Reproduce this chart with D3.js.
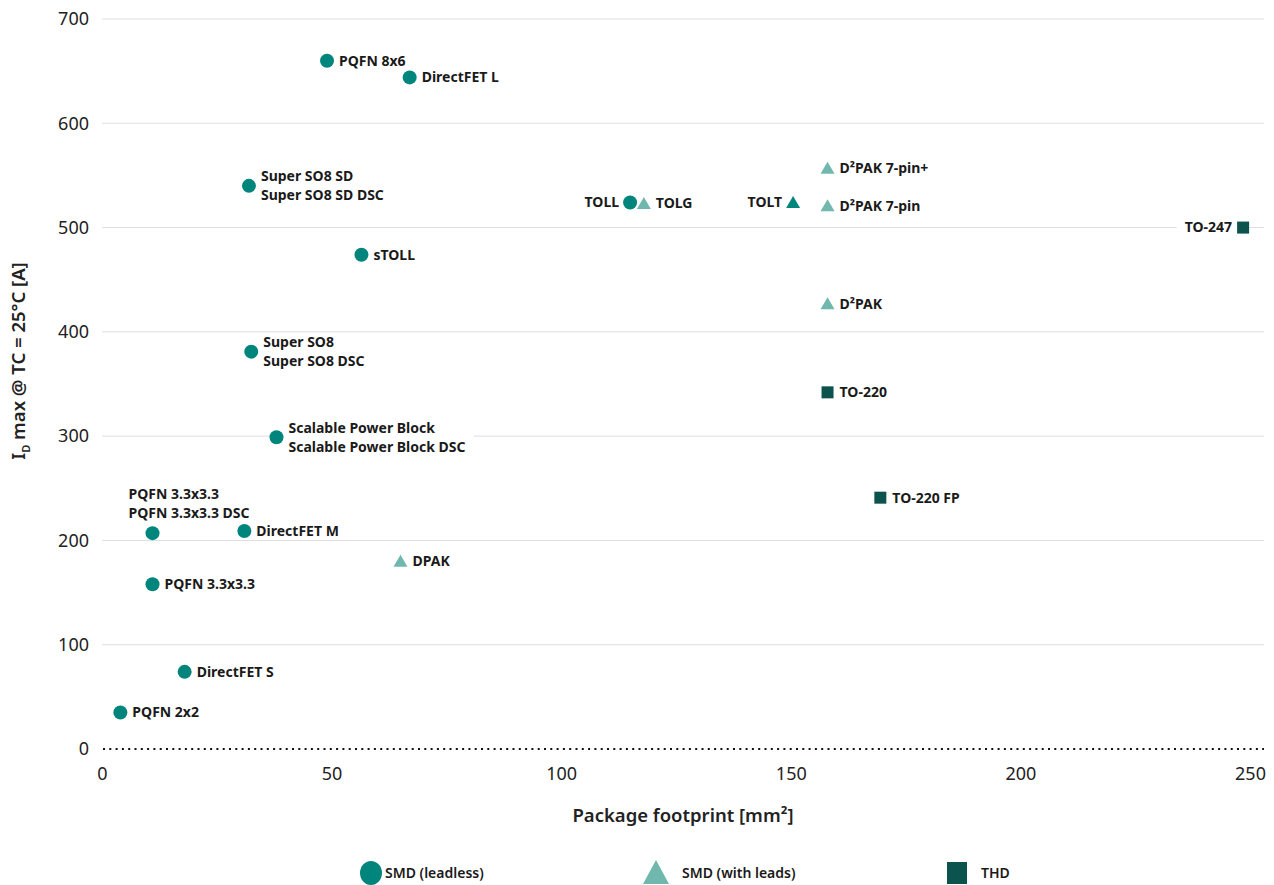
<!DOCTYPE html>
<html>
<head>
<meta charset="utf-8">
<script src="https://cdn.jsdelivr.net/npm/d3@7"></script>
<style>
  html, body { margin: 0; padding: 0; background: #fff; }
  svg { display: block; font-family: "Noto Sans", "Open Sans", sans-serif; }
</style>
</head>
<body>
<svg id="chart" width="1274" height="885"></svg>
<script>
// ---- data ----
const xTicks = [0, 50, 100, 150, 200, 250];
const yTicks = [0, 100, 200, 300, 400, 500, 600, 700];

const seriesNames = ["SMD (leadless)", "SMD (with leads)", "THD"];

const leadlessNames = ["PQFN 2x2", "DirectFET S", "PQFN 3.3x3.3", "PQFN 3.3x3.3\nPQFN 3.3x3.3 DSC", "DirectFET M",
  "Scalable Power Block\nScalable Power Block DSC", "Super SO8\nSuper SO8 DSC", "sTOLL", "Super SO8 SD\nSuper SO8 SD DSC",
  "TOLL", "PQFN 8x6", "DirectFET L"];
const leadlessX = [4, 18, 11, 11, 31, 38, 32.5, 56.5, 32, 115, 49, 67];
const leadlessY = [35, 74, 158, 207, 209, 299, 381, 474, 540, 524, 660, 644];

const leadsNames = ["DPAK", "TOLG", "TOLT", "D²PAK", "D²PAK 7-pin", "D²PAK 7-pin+"];
const leadsX = [65, 118, 150.5, 158, 158, 158];
const leadsY = [180, 523, 524, 427, 521, 557];

const thdNames = ["TO-220", "TO-220 FP", "TO-247"];
const thdX = [158, 169.5, 248.5];
const thdY = [342, 241, 500];

// label placement (style, not data)
const labelLeft = new Set(["TOLL", "TOLT", "TO-247"]);
const labelAbove = new Set(["PQFN 3.3x3.3\nPQFN 3.3x3.3 DSC"]);
const darkTriangles = new Set(["TOLT"]);

// ---- layout ----
const colors = { leadless: "#00857c", leads: "#70b8ae", thd: "#0b534c" };
const svg = d3.select("#chart");
const margin = { left: 102, right: 1250, top: 19, bottom: 749 };
const x = d3.scaleLinear().domain([0, 250]).range([margin.left, margin.right]);
const y = d3.scaleLinear().domain([0, 700]).range([margin.bottom, margin.top]);
const gridRight = 1264;

// grid
const grid = svg.append("g");
grid.selectAll("line").data(yTicks.filter(d => d > 0)).join("line")
  .attr("x1", margin.left).attr("x2", gridRight)
  .attr("y1", d => y(d)).attr("y2", d => y(d))
  .attr("stroke", "#dedede").attr("stroke-width", 1);
svg.append("line")
  .attr("x1", margin.left + 1).attr("x2", gridRight)
  .attr("y1", y(0)).attr("y2", y(0))
  .attr("stroke", "#111").attr("stroke-width", 2)
  .attr("stroke-dasharray", "2,4.3");

// axes
const yAxis = d3.axisLeft(y).tickValues(yTicks).tickSize(0).tickPadding(13);
const gy = svg.append("g").attr("transform", `translate(${margin.left},0)`).call(yAxis);
gy.select(".domain").remove();
gy.selectAll("text").attr("font-size", 18).attr("fill", "#222")
  .attr("font-family", "Noto Sans");

const xAxis = d3.axisBottom(x).tickValues(xTicks).tickSize(0).tickPadding(18);
const gx = svg.append("g").attr("transform", `translate(0,${margin.bottom})`).call(xAxis);
gx.select(".domain").remove();
gx.selectAll("text").attr("font-size", 18).attr("fill", "#222")
  .attr("font-family", "Noto Sans");

// axis titles
svg.append("text")
  .attr("x", 683).attr("y", 822).attr("text-anchor", "middle")
  .attr("font-size", 18.5).attr("font-weight", 600).attr("fill", "#222")
  .text("Package footprint [mm²]");

const yt = svg.append("text")
  .attr("transform", "translate(25,361) rotate(-90)")
  .attr("text-anchor", "middle")
  .attr("font-size", 18.5).attr("font-weight", 600).attr("fill", "#222");
yt.append("tspan").text("I");
yt.append("tspan").attr("font-size", 11).attr("dy", 5).text("D");
yt.append("tspan").attr("dy", -5).text(" max @ TC = 25°C [A]");

// points
const leadless = leadlessNames.map((n, i) => ({ name: n, x: leadlessX[i], y: leadlessY[i], type: "leadless" }));
const leads = leadsNames.map((n, i) => ({ name: n, x: leadsX[i], y: leadsY[i], type: "leads" }));
const thd = thdNames.map((n, i) => ({ name: n, x: thdX[i], y: thdY[i], type: "thd" }));
const all = leadless.concat(leads, thd);

// labels (with white background)
const labelG = svg.append("g");
const markG = svg.append("g");
const fs = 14, lh = 19;
all.forEach(d => {
  const px = x(d.x), py = y(d.y);
  const lines = d.name.split("\n");
  let anchor = "start", tx = px + 12, ty0;
  if (labelLeft.has(d.name)) { anchor = "end"; tx = px - 11; }
  if (labelAbove.has(d.name)) {
    tx = px - 24;
    ty0 = py - 39;
  } else {
    ty0 = py - (lines.length - 1) * lh / 2;
  }
  const t = labelG.append("text")
    .attr("text-anchor", anchor)
    .attr("font-size", fs).attr("font-weight", 700).attr("fill", "#1a1a1a");
  lines.forEach((l, i) => {
    t.append("tspan").attr("x", tx).attr("y", ty0 + i * lh).attr("dy", "0.35em").text(l);
  });
  const bb = t.node().getBBox();
  labelG.insert("rect", "text")
    .attr("x", bb.x - 8).attr("y", bb.y + 1)
    .attr("width", bb.width + 16).attr("height", bb.height - 2)
    .attr("fill", "#fff");
});

// markers
markG.selectAll("circle").data(leadless).join("circle")
  .attr("cx", d => x(d.x)).attr("cy", d => y(d.y)).attr("r", 7)
  .attr("fill", colors.leadless);
markG.selectAll("path.tri").data(leads).join("path").attr("class", "tri")
  .attr("d", "M0,-6.5 L7,5.5 L-7,5.5 Z")
  .attr("transform", d => `translate(${x(d.x)},${y(d.y)})`)
  .attr("fill", d => darkTriangles.has(d.name) ? colors.leadless : colors.leads);
markG.selectAll("rect").data(thd).join("rect")
  .attr("x", d => x(d.x) - 6).attr("y", d => y(d.y) - 6)
  .attr("width", 12).attr("height", 12)
  .attr("fill", colors.thd);

// legend
const legend = svg.append("g");
const legX = [371, 656, 957];
const legY = 873;
legend.append("ellipse").attr("cx", legX[0]).attr("cy", legY).attr("rx", 11).attr("ry", 12).attr("fill", colors.leadless);
legend.append("path").attr("d", "M0,-13 L13,11 L-13,11 Z")
  .attr("transform", `translate(${legX[1]},${legY})`).attr("fill", colors.leads);
legend.append("rect").attr("x", legX[2] - 10).attr("y", legY - 11).attr("width", 20).attr("height", 22).attr("fill", colors.thd);
const legTextX = [385, 682, 981];
seriesNames.forEach((s, i) => {
  legend.append("text").attr("x", legTextX[i]).attr("y", legY).attr("dy", "0.35em")
    .attr("font-size", 14).attr("font-weight", 600).attr("fill", "#1a1a1a").text(s);
});
</script>
</body>
</html>
